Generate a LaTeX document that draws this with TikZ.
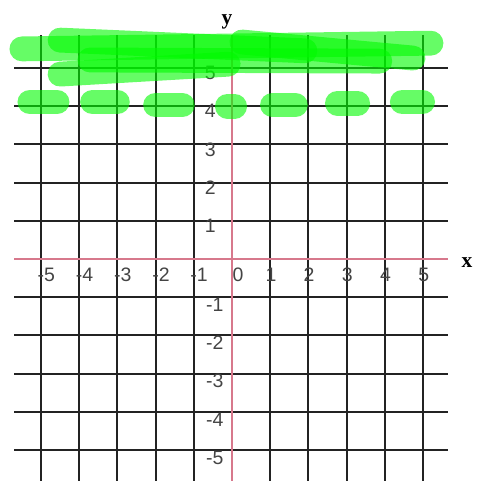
\documentclass[tikz,border=0pt]{standalone}
\usepackage{fontspec}
\setmainfont{Liberation Sans}
\newfontfamily\axisfont{Liberation Serif}
\usetikzlibrary{positioning}
\definecolor{gridblack}{RGB}{35,35,35}
\definecolor{axispink}{RGB}{215,120,140}
\definecolor{marker}{RGB}{0,250,0}

\begin{document}
\begin{tikzpicture}[x=1cm,y=1cm,
        gridline/.style={gridblack, line width=1.4pt},
        axisline/.style={axispink, line width=0.8pt},
        ticklabel/.style={font=\fontsize{14.5}{16}\selectfont, inner sep=0pt, text=gridblack!85},
        axislabel/.style={font=\axisfont\bfseries\fontsize{16}{18}\selectfont, inner sep=0pt},
        highlight/.style={marker, opacity=0.6, line width=0.65cm, line cap=round}]
            \useasboundingbox (-6.073,-5.812) rectangle (6.466,6.780);

            % grid
            \foreach \i in {-5,...,-1,1,2,3,4,5} {
                \draw[gridline] (\i,-5.82) -- (\i,5.86);
                \draw[gridline] (-5.70,\i) -- (5.65,\i);
            }
            \draw[axisline] (-5.70,0) -- (5.65,0);
            \draw[axisline] (0,-5.82) -- (0,5.86);

            % axis names
            \node[axislabel] (ylabel) at (-0.13,6.20) {y};
            \node[axislabel] (xlabel) at (6.15,-0.10) {x};

            % tick labels
            \foreach \i in {-5,...,-1} {
                \node[ticklabel] (xtick\i) at (\i+0.14,-0.42) {-\the\numexpr-\i\relax};
                \node[ticklabel] (ytick\i) at (-0.45,\i-0.20) {-\the\numexpr-\i\relax};
            }
            \foreach \i in {1,...,5} {
                \node[ticklabel] (xtick\i) at (\i+0.02,-0.42) {\i};
                \node[ticklabel] (ytick\i) at (-0.57,\i-0.13) {\i};
            }
            \node[ticklabel] (origin) at (0.16,-0.42) {0};

            % shaded region y > 4
            \draw[highlight] (-5.50,5.50) -- (5.21,5.65);
            \draw[highlight] (-4.50,5.73) -- (1.91,5.45);
            \draw[highlight] (-3.72,5.21) -- (3.87,5.18);
            \draw[highlight] (-4.50,4.84) -- (-0.10,5.10);
            \draw[highlight] (0.26,5.68) -- (4.74,5.26);

            % dashed boundary y = 4
            \foreach \a/\b/\h in {-5.29/-4.58/4.11, -3.65/-3.00/4.11, -2.00/-1.30/4.03,
                                  -0.12/0.07/4.00, 1.06/1.66/4.03, 2.76/3.29/4.08, 4.46/4.99/4.11}
                \draw[highlight] (\a,\h) -- (\b,\h);
        \end{tikzpicture}
\end{document}
